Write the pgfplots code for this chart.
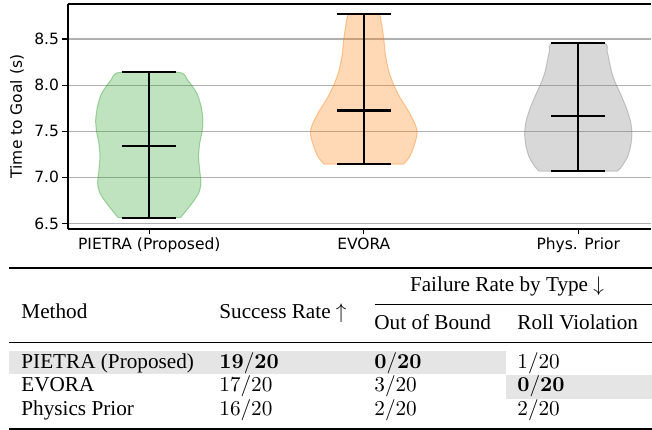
\documentclass[border=0pt]{standalone}
\usepackage[no-math]{fontspec}
\setmainfont{Liberation Serif}
\newfontfamily\plotfont{DejaVu Sans}
\usepackage{pgfplots}
\pgfplotsset{compat=1.18}
\definecolor{vgreen}{RGB}{44,160,44}
\definecolor{vorange}{RGB}{255,127,14}
\definecolor{vgray}{RGB}{127,127,127}
\definecolor{gridc}{RGB}{176,176,176}
\newcommand\tf{\fontsize{10}{12}\selectfont}
\newcommand\pf{\plotfont\fontsize{15.5}{18}\selectfont}
\begin{document}
\begin{tikzpicture}[x=1pt,y=1pt]
\useasboundingbox (0,0) rectangle (652,430);
\begin{axis}[
  at={(68pt,201pt)}, anchor=south west, scale only axis,
  width=583pt, height=225pt,
  xmin=0.621, xmax=3.339, ymin=6.44, ymax=8.88,
  axis x line*=box, axis y line*=left,
  axis line style={-, line width=1.2pt, black},
  xtick={1,2,3}, xticklabels={PIETRA (Proposed), EVORA, Phys. Prior},
  ytick={6.5,7.0,7.5,8.0,8.5},
  yticklabel style={/pgf/number format/.cd, fixed, fixed zerofill, precision=1},
  /pgf/number format/assume math mode=true,
  tick label style={font=\pf, black},
  ymajorgrids, grid style={gridc, line width=1.2pt},
  tick align=outside, major tick length=5.5pt,
  tick style={black, line width=1.2pt},
  xtick pos=left, ytick pos=left,
  ylabel={Time to Goal (s)},
  every axis y label/.style={at={(rel axis cs:-0.0875,0.5)}, rotate=90, anchor=center, font=\pf},
]
% PIETRA violin
\addplot[draw=vgreen, draw opacity=0.4, fill=vgreen, fill opacity=0.3, line width=1pt, smooth, tension=0.4] coordinates {
 (1.145,6.562) (1.168,6.627) (1.199,6.718) (1.230,6.826) (1.241,6.935) (1.235,7.079) (1.230,7.224)
 (1.235,7.368) (1.246,7.495) (1.250,7.621) (1.242,7.766) (1.222,7.911) (1.179,8.055) (1.137,8.139)
 (0.863,8.139) (0.821,8.055) (0.778,7.911) (0.758,7.766) (0.750,7.621) (0.754,7.495) (0.765,7.368)
 (0.770,7.224) (0.765,7.079) (0.759,6.935) (0.770,6.826) (0.801,6.718) (0.832,6.627) (0.855,6.562)
} -- cycle;
% EVORA violin
\addplot[draw=vorange, draw opacity=0.4, fill=vorange, fill opacity=0.3, line width=1pt, smooth, tension=0.4] coordinates {
 (2.186,7.144) (2.214,7.224) (2.236,7.350) (2.249,7.477) (2.241,7.567) (2.210,7.712) (2.171,7.857)
 (2.140,8.001) (2.117,8.146) (2.101,8.326) (2.093,8.507) (2.081,8.688) (2.065,8.771)
 (1.935,8.771) (1.919,8.688) (1.907,8.507) (1.899,8.326) (1.883,8.146) (1.860,8.001) (1.829,7.857)
 (1.790,7.712) (1.759,7.567) (1.751,7.477) (1.764,7.350) (1.786,7.224) (1.814,7.144)
} -- cycle;
% Phys. Prior violin
\addplot[draw=vgray, draw opacity=0.4, fill=vgray, fill opacity=0.3, line width=1pt, smooth, tension=0.4] coordinates {
 (3.183,7.068) (3.202,7.115) (3.230,7.224) (3.245,7.350) (3.250,7.477) (3.244,7.603) (3.225,7.748)
 (3.199,7.893) (3.171,8.037) (3.155,8.146) (3.145,8.254) (3.135,8.363) (3.117,8.457)
 (2.883,8.457) (2.865,8.363) (2.855,8.254) (2.845,8.146) (2.829,8.037) (2.801,7.893) (2.775,7.748)
 (2.756,7.603) (2.750,7.477) (2.755,7.350) (2.770,7.224) (2.798,7.115) (2.817,7.068)
} -- cycle;
% black range / mean lines
\addplot[black, line width=2.2pt] coordinates {(1,6.562) (1,8.139)};
\addplot[black, line width=2.2pt] coordinates {(0.875,6.562) (1.125,6.562)};
\addplot[black, line width=2.2pt] coordinates {(0.875,7.343) (1.125,7.343)};
\addplot[black, line width=2.2pt] coordinates {(0.875,8.139) (1.125,8.139)};
\addplot[black, line width=2.2pt] coordinates {(2,7.144) (2,8.771)};
\addplot[black, line width=2.2pt] coordinates {(1.875,7.144) (2.125,7.144)};
\addplot[black, line width=2.2pt] coordinates {(1.875,7.726) (2.125,7.726)};
\addplot[black, line width=2.2pt] coordinates {(1.875,8.771) (2.125,8.771)};
\addplot[black, line width=2.2pt] coordinates {(3,7.068) (3,8.457)};
\addplot[black, line width=2.2pt] coordinates {(2.875,7.068) (3.125,7.068)};
\addplot[black, line width=2.2pt] coordinates {(2.875,7.668) (3.125,7.668)};
\addplot[black, line width=2.2pt] coordinates {(2.875,8.457) (3.125,8.457)};
\end{axis}
% table
\fill[black!10] (9,55.7) rectangle (506,79);
\fill[black!10] (506,31) rectangle (652,55);
\draw[line width=2pt] (9,162.3) -- (652,162.3);
\draw[line width=1pt] (375,125) -- (652,125);
\draw[line width=1.3pt] (9,87.7) -- (652,87.7);
\draw[line width=2pt] (9,1.3) -- (652,1.3);
\begin{scope}[every node/.style={anchor=base west, inner sep=0pt, font=\tf, scale=2.12}]
\node at (21,111.7) {Method};
\node at (219,111.7) {Success Rate $\uparrow$};
\node[anchor=base] at (507,138.3) {Failure Rate by Type $\downarrow$};
\node at (374,100) {Out of Bound};
\node at (517,100) {Roll Violation};
\node at (21,61.7) {PIETRA (Proposed)};
\node at (219,61.7) {$\mathbf{19/20}$};
\node at (374,61.7) {$\mathbf{0/20}$};
\node at (517,61.7) {$1/20$};
\node at (21,38.3) {EVORA};
\node at (219,38.3) {$17/20$};
\node at (374,38.3) {$3/20$};
\node at (517,38.3) {$\mathbf{0/20}$};
\node at (21,14.3) {Physics Prior};
\node at (219,14.3) {$16/20$};
\node at (374,14.3) {$2/20$};
\node at (517,14.3) {$2/20$};
\end{scope}
\end{tikzpicture}
\end{document}
